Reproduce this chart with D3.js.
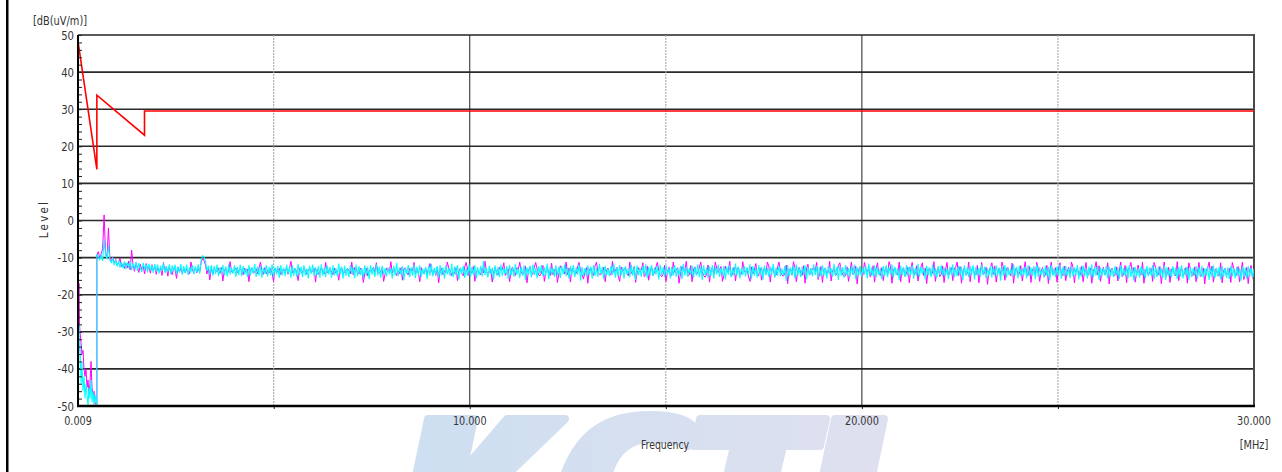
<!DOCTYPE html>
<html><head><meta charset="utf-8">
<script src="https://cdn.jsdelivr.net/npm/d3@7"></script>
<style>html,body{margin:0;padding:0;background:#fff;overflow:hidden}</style>
</head><body><svg id="c" width="1282" height="472"></svg>
<script>
// ---- data ----
const yTickValues = [50, 40, 30, 20, 10, 0, -10, -20, -30, -40, -50];
const xLabelFreqs = [0.009, 10, 20, 30];
const xLabelTexts = ["0.009", "10.000", "20.000", "30.000"];
const xGridSolid = [10, 20];
const xGridDotted = [5, 15, 25];

const limitFreq = [0.009, 0.49, 0.49, 1.705, 1.705, 30];
const limitLevel = [48.3, 13.8, 33.8, 23.0, 29.5, 29.5];

// band 1 (9 kHz - 490 kHz)
const band1Freq = [0.009, 0.022, 0.035, 0.047, 0.06, 0.086, 0.111, 0.137, 0.162, 0.188, 0.213, 0.239, 0.264, 0.29, 0.315, 0.341, 0.366, 0.392, 0.417, 0.443, 0.49];
const band1Magenta = [-15.6, -22, -17, -28, -30, -33, -36, -35, -40, -42, -40, -45, -43, -47, -44, -38, -45, -47, -46, -49, -50];
const band1Cyan = [-21, -49, -28, -35, -33, -44, -38, -46, -42, -48, -44, -47, -50, -45, -48, -43, -49, -46, -50, -47, -50];

// band 2 sweep (0.49 MHz - 30 MHz)
const sweepStart = 0.49, sweepStop = 30;
const band2Cyan = [
-9.0,-9.8,-10.6,-9.4,-10.9,-5.2,-9.1,-10.4,-6.8,-10.7,-11.3,-10.2,-12.0,-10.6,-12.4,-10.9,-12.7,-11.2,-12.9,-11.0,
-13.1,-11.3,-12.6,-11.0,-13.4,-11.6,-12.9,-11.2,-13.6,-11.5,-12.8,-13.9,-11.4,-13.2,-11.8,-14.0,-11.6,-13.5,-12.0,-14.1,
-11.7,-13.8,-11.9,-14.3,-12.2,-13.6,-11.5,-14.2,-12.4,-13.9,-11.8,-14.5,-12.1,-13.7,-11.9,-14.4,-12.5,-14.0,-11.7,-14.6,
-12.3,-14.1,-11.9,-14.7,-12.6,-13.8,-12.0,-14.5,-12.4,-13.9,-11.8,-14.3,-10.6,-9.5,-9.8,-11.0,-13.6,-12.2,-14.6,-12.0,
-14.8,-12.3,-14.4,-11.9,-15.0,-12.6,-14.2,-12.0,-14.9,-12.4,-15.1,-11.8,-14.6,-12.7,-14.3,-12.1,-15.2,-12.5,-14.7,-11.9,
-15.0,-12.3,-14.5,-12.8,-15.3,-12.0,-14.8,-12.6,-14.1,-11.7,-15.2,-12.4,-14.9,-12.2,-15.4,-12.8,-14.4,-12.0,-15.1,-12.5,
-14.7,-11.8,-15.3,-12.6,-14.5,-12.2,-15.5,-12.0,-14.8,-12.7,-15.0,-11.9,-14.3,-12.5,-15.4,-12.1,-14.9,-12.8,-15.2,-11.7,
-14.6,-12.4,-15.3,-12.0,-14.8,-12.9,-15.6,-12.2,-14.4,-11.9,-15.1,-12.6,-14.7,-12.3,-15.5,-11.8,-14.9,-12.7,-15.2,-12.1,
-14.5,-12.5,-15.4,-12.0,-14.8,-12.8,-15.0,-11.6,-14.6,-12.4,-15.7,-12.2,-14.9,-12.9,-15.3,-12.0,-14.4,-12.6,-15.6,-11.9,
-15.0,-12.3,-14.7,-12.8,-15.4,-12.1,-14.9,-12.5,-15.8,-12.0,-14.6,-12.7,-15.2,-11.8,-14.8,-12.4,-15.5,-12.2,-14.5,-12.9,
-15.1,-12.6,-14.3,-13.0,-15.6,-12.2,-14.8,-11.5,-15.0,-12.7,-14.6,-12.3,-16.1,-12.9,-14.4,-12.0,-15.3,-12.6,-14.9,-11.9,
-15.5,-12.4,-14.7,-12.1,-15.2,-13.0,-14.5,-12.5,-15.8,-12.2,-14.9,-11.7,-15.1,-12.8,-14.6,-12.3,-15.4,-12.0,-14.8,-12.6,
-15.7,-12.1,-14.5,-12.9,-15.0,-11.6,-15.3,-12.4,-14.7,-12.0,-15.9,-12.7,-14.3,-12.2,-15.5,-12.8,-14.9,-11.8,-15.2,-12.5,
-14.6,-12.0,-15.6,-12.6,-14.8,-12.3,-15.1,-10.9,-14.7,-12.9,-15.4,-12.2,-14.5,-12.7,-15.9,-12.1,-14.9,-12.5,-15.3,-11.9,
-15.0,-12.8,-14.4,-12.3,-15.7,-12.0,-14.8,-12.6,-15.2,-11.7,-14.6,-13.0,-15.5,-12.4,-14.9,-12.1,-16.0,-12.7,-14.5,-12.2,
-15.3,-11.9,-14.7,-12.8,-15.6,-12.3,-14.4,-12.0,-15.1,-12.6,-14.9,-11.6,-15.8,-12.4,-14.6,-12.9,-15.2,-12.1,-14.8,-12.5,
-15.5,-12.2,-14.5,-11.8,-15.0,-12.7,-15.7,-12.3,-14.8,-12.0,-15.3,-12.6,-14.6,-11.9,-16.2,-12.5,-14.9,-12.8,-15.1,-12.1,
-14.7,-12.4,-15.6,-12.0,-14.9,-12.8,-15.2,-11.7,-14.5,-12.5,-15.8,-12.2,-14.8,-12.9,-15.0,-12.3,-14.6,-11.6,-15.4,-12.7,
-15.1,-12.0,-14.8,-12.6,-15.7,-12.3,-14.5,-12.9,-15.3,-11.9,-14.9,-12.4,-16.0,-12.1,-14.7,-12.8,-15.2,-12.2,-14.6,-11.8,
-15.5,-12.5,-14.9,-12.0,-15.0,-12.7,-14.6,-12.3,-15.9,-11.9,-14.8,-12.6,-15.3,-12.1,-14.5,-12.9,-15.6,-12.4,-14.9,-12.0,
-15.2,-12.8,-14.7,-12.2,-15.8,-11.7,-14.9,-12.5,-15.1,-12.9,-14.6,-12.1,-15.5,-12.6,-14.8,-11.8,-15.3,-12.4,-16.1,-12.0,
-14.7,-12.7,-15.4,-12.3,-14.9,-12.0,-15.7,-12.6,-14.5,-11.9,-15.2,-12.8,-14.8,-12.2,-15.9,-12.5,-14.6,-12.1,-15.3,-12.7,
-15.0,-11.6,-14.8,-12.4,-15.6,-12.9,-14.7,-12.2,-15.1,-12.6,-14.5,-11.8,-15.8,-12.3,-14.9,-12.7,-15.4,-12.0,-14.6,-12.5,
-15.9,-12.1,-14.8,-12.8,-15.2,-12.4,-14.6,-11.7,-15.5,-12.6,-14.9,-12.2,-15.0,-12.9,-14.7,-12.3,-16.3,-12.0,-15.1,-12.6,
-14.8,-12.2,-15.6,-11.9,-14.9,-12.7,-15.3,-12.4,-14.6,-12.0,-15.8,-12.5,-14.8,-12.8,-15.1,-11.8,-14.7,-12.3,-15.5,-12.6,
-15.0,-12.1,-14.9,-12.7,-15.7,-12.3,-14.5,-12.9,-15.2,-11.7,-14.8,-12.5,-16.0,-12.2,-14.9,-12.6,-15.4,-12.0,-14.7,-12.8,
-15.3,-12.4,-14.6,-11.9,-15.9,-12.6,-14.8,-12.2,-15.1,-12.8,-14.5,-12.3,-15.6,-11.6,-14.9,-12.7,-15.0,-12.1,-15.4,-12.5,
-14.7,-12.9,-15.8,-12.3,-14.9,-12.0,-15.3,-12.6,-14.6,-11.8,-15.5,-12.4,-14.8,-12.8,-16.1,-12.2,-14.9,-12.6,-15.2,-12.0,
-15.0,-12.5,-14.7,-12.1,-15.7,-12.8,-14.9,-11.7,-15.2,-12.4,-14.6,-12.7,-15.9,-12.2,-14.8,-12.6,-15.3,-11.9,-14.9,-12.8,
-15.5,-12.3,-14.7,-12.0,-15.1,-12.6,-14.9,-12.9,-15.8,-12.4,-14.6,-11.8,-15.4,-12.7,-15.0,-12.2,-14.8,-12.5,-16.0,-12.1,
-14.9,-12.7,-15.3,-12.3,-14.7,-12.0,-15.9,-12.5,-14.8,-12.8,-15.2,-11.9,-14.6,-12.4,-15.6,-12.9,-14.9,-12.2,-15.4,-12.6,
-15.0,-12.1,-14.8,-12.7,-16.2,-12.3,-14.9,-12.0,-15.5,-12.6,-14.7,-12.9,-15.1,-11.8,-14.9,-12.5,-15.7,-12.2,-15.0,-12.8,
-14.8,-12.4,-15.6,-12.0,-15.0,-12.7,-14.9,-12.3,-15.8,-11.9,-15.2,-12.6,-14.7,-12.9,-15.4,-12.2,-15.0,-12.5,-16.1,-12.0,
-14.9,-12.8,-15.3,-12.4,-14.8,-11.9,-15.7,-12.6,-15.0,-12.2,-14.9,-12.9,-15.5,-12.3,-15.1,-12.7,-14.8,-12.0,-15.9,-12.5,
-15.2,-12.1,-14.9,-12.8,-15.6,-12.4,-15.0,-11.8,-15.4,-12.7,-14.9,-12.3,-16.0,-12.6,-15.1,-12.9,-14.8,-12.2,-15.7,-12.5,
-15.0,-12.9,-15.3,-12.3,-14.9,-12.6,-15.8,-12.0,-15.1,-12.8,-14.9,-12.4,-15.6,-12.1,-15.2,-12.7,-16.2,-12.5,-15.0,-12.9,
-15.4,-12.3,-14.9,-12.8,-15.7,-12.2,-15.1,-12.6,-14.9,-12.0,-15.9,-12.7,-15.2,-12.4,-15.0,-12.9,-15.5,-12.1,-16.0,-12.6,
-15.1,-12.9,-15.4,-12.3,-14.9,-12.7,-15.8,-12.5,-15.2,-12.0,-15.6,-12.8,-15.0,-12.4,-16.1,-12.6,-15.3,-12.9,-14.9,-12.3,
-15.7,-12.6,-15.1,-12.2,-15.5,-12.9,-15.0,-12.4,-16.0,-12.7,-15.3,-12.1,-15.6,-12.8,-15.1,-12.5,-15.9,-12.3,-15.2,-12.9,
-15.4,-12.6,-15.8,-12.2,-15.1,-12.8,-15.6,-12.5,-15.0,-12.9,-16.2,-12.4,-15.3,-12.7,-15.7,-12.3,-15.1,-12.8,-15.5,-13.0
];
const band2Magenta = [
-9.3,-8.4,-10.1,-9.0,-7.5,1.5,-8.8,-9.9,-2.0,-10.4,-11.0,-9.8,-11.6,-10.5,-12.1,-11.3,-10.2,-12.4,-11.7,-12.9,
-11.5,-12.8,-10.9,-13.3,-8.0,-12.0,-13.7,-11.4,-12.6,-14.0,-11.8,-13.2,-12.3,-14.4,-11.6,-13.0,-12.7,-14.2,-11.9,-13.6,
-12.2,-14.5,-12.7,-13.4,-12.9,-14.8,-11.3,-13.8,-12.4,-15.0,-12.6,-13.5,-14.6,-12.8,-13.1,-15.6,-12.5,-13.9,-12.9,-14.3,
-12.8,-14.1,-13.1,-13.6,-14.4,-11.2,-13.3,-14.2,-12.6,-14.1,-13.0,-13.9,-11.4,-10.2,-10.8,-12.0,-14.4,-12.9,-16.0,-12.7,
-14.6,-13.0,-13.5,-13.8,-12.8,-14.3,-12.7,-16.3,-13.4,-12.9,-14.3,-13.7,-11.1,-13.8,-14.0,-13.2,-12.8,-14.1,-13.5,-12.9,
-13.5,-14.6,-12.9,-14.0,-13.1,-16.5,-13.2,-12.8,-14.2,-13.9,-13.0,-14.4,-12.7,-11.2,-13.6,-14.5,-12.7,-14.4,-13.3,-14.1,
-13.0,-14.2,-16.4,-12.8,-13.5,-14.0,-12.9,-14.6,-13.4,-13.1,-13.7,-12.8,-14.5,-13.0,-11.0,-14.1,-13.6,-12.9,-14.1,-16.2,
-12.9,-13.8,-14.3,-12.7,-13.6,-14.5,-13.3,-12.9,-14.0,-13.6,-12.9,-16.6,-13.2,-14.5,-13.8,-12.6,-13.9,-14.4,-11.3,-14.1,
-13.6,-12.9,-13.7,-14.6,-12.8,-14.2,-13.4,-16.1,-13.1,-12.8,-14.2,-14.0,-13.3,-12.9,-13.5,-14.4,-11.2,-14.6,-12.7,-13.3,
-13.9,-14.4,-12.8,-13.4,-16.7,-14.3,-12.9,-14.9,-13.5,-13.6,-13.3,-12.6,-14.0,-11.4,-13.9,-14.2,-13.7,-12.8,-16.4,-14.5,
-12.8,-13.7,-14.1,-11.1,-14.2,-12.9,-13.6,-14.8,-13.5,-14.3,-12.7,-16.1,-13.0,-12.8,-14.0,-14.7,-12.9,-13.6,-13.5,-11.3,
-14.4,-13.1,-14.2,-16.5,-12.7,-13.9,-14.4,-12.8,-14.5,-13.2,-11.6,-13.2,-14.6,-13.1,-14.8,-12.6,-16.8,-13.7,-12.9,-14.6,
-13.5,-14.1,-11.2,-12.9,-13.4,-14.8,-13.9,-14.4,-12.7,-16.2,-13.6,-12.8,-14.3,-14.9,-12.5,-11.3,-13.1,-14.9,-13.7,-14.2,
-12.4,-16.4,-13.8,-13.3,-14.2,-14.6,-12.8,-14.1,-11.0,-13.7,-14.5,-14.0,-13.2,-16.6,-13.9,-12.6,-14.0,-14.7,-12.6,-13.3,
-13.2,-11.4,-14.8,-14.3,-13.0,-16.5,-13.6,-12.5,-14.1,-14.8,-12.7,-13.2,-11.2,-13.9,-14.6,-14.1,-12.3,-16.8,-13.7,-12.4,
-14.3,-14.5,-12.6,-11.3,-13.1,-14.7,-14.9,-14.2,-12.1,-16.4,-13.8,-12.6,-14.4,-14.9,-11.5,-14.7,-13.3,-12.8,-16.7,-14.4,
-12.2,-13.1,-13.5,-14.4,-11.2,-14.6,-12.8,-16.6,-13.0,-12.9,-14.5,-14.3,-12.4,-11.3,-13.7,-14.6,-15.8,-14.0,-12.7,-16.9,
-13.4,-12.7,-14.0,-14.8,-12.3,-11.2,-13.9,-14.5,-14.6,-14.1,-12.6,-16.5,-13.2,-12.8,-14.3,-14.7,-11.0,-14.0,-13.6,-12.6,
-14.9,-16.4,-12.5,-13.8,-13.1,-12.7,-14.4,-14.9,-11.2,-14.3,-13.8,-12.4,-16.7,-14.2,-12.7,-13.6,-13.3,-11.4,-15.1,-14.6,
-12.3,-16.1,-13.7,-12.5,-14.8,-14.0,-12.6,-11.3,-13.4,-14.8,-15.2,-14.5,-12.1,-16.4,-13.9,-12.6,-14.5,-14.8,-11.2,-14.0,
-13.3,-12.7,-16.9,-14.3,-12.4,-13.5,-13.6,-11.0,-15.0,-14.7,-12.2,-16.5,-13.1,-12.5,-14.6,-14.1,-12.7,-11.2,-13.8,-14.8,
-15.3,-14.6,-12.0,-16.6,-13.5,-12.6,-14.7,-11.2,-12.9,-14.0,-13.2,-12.4,-16.4,-14.8,-12.3,-13.8,-13.7,-11.0,-15.1,-14.4,
-12.6,-16.3,-13.0,-12.7,-14.8,-14.5,-11.1,-13.7,-13.9,-12.9,-15.2,-16.4,-12.5,-14.4,-13.4,-11.6,-14.6,-14.9,-12.8,-16.1,
-13.6,-12.8,-14.5,-11.2,-12.3,-16.6,-13.1,-12.5,-14.9,-14.7,-12.7,-11.2,-13.8,-14.7,-15.0,-14.4,-12.0,-17.0,-13.3,-12.9,
-14.7,-11.1,-12.6,-16.5,-13.5,-12.6,-14.3,-14.8,-12.2,-16.9,-13.0,-11.8,-14.6,-14.3,-12.9,-13.1,-13.7,-11.3,-15.9,-14.6,
-12.4,-16.7,-13.2,-12.9,-14.4,-14.0,-11.0,-16.3,-13.6,-12.7,-14.8,-14.5,-12.1,-11.4,-13.4,-14.6,-15.1,-14.9,-12.5,-16.4,
-13.9,-11.2,-14.6,-14.2,-12.3,-17.1,-13.3,-12.5,-14.9,-14.7,-11.3,-13.0,-13.8,-12.9,-15.2,-14.4,-12.2,-16.6,-13.1,-11.4,
-14.5,-14.8,-12.7,-16.2,-13.6,-12.6,-14.7,-11.1,-12.4,-16.9,-13.2,-12.8,-14.3,-14.6,-11.2,-16.5,-13.5,-12.7,-15.0,-14.3,
-12.5,-16.8,-13.0,-11.3,-14.8,-14.4,-12.2,-16.3,-13.7,-12.6,-11.4,-14.9,-12.8,-17.0,-13.3,-12.8,-14.6,-14.2,-11.1,-16.4,
-13.8,-12.7,-15.1,-14.6,-12.3,-16.7,-13.4,-11.3,-14.9,-14.0,-12.7,-16.2,-13.1,-12.5,-11.2,-14.8,-12.4,-16.9,-13.6,-12.8,
-14.7,-14.3,-11.2,-16.5,-13.2,-12.6,-14.3,-14.7,-12.1,-16.8,-13.9,-11.3,-14.6,-14.1,-12.6,-17.2,-13.5,-12.7,-11.4,-14.5,
-12.3,-16.6,-13.7,-12.9,-14.8,-11.2,-12.8,-16.1,-13.0,-12.6,-14.4,-14.9,-11.5,-16.9,-13.4,-12.8,-14.7,-14.4,-12.2,-16.3,
-13.6,-11.1,-14.5,-14.8,-12.4,-16.7,-13.3,-12.7,-14.9,-11.3,-12.9,-16.4,-13.8,-12.6,-15.2,-14.6,-12.1,-17.0,-13.5,-11.2,
-14.6,-14.2,-12.7,-16.6,-13.1,-11.4,-14.3,-14.9,-12.3,-16.2,-13.9,-12.6,-14.8,-11.2,-12.6,-16.8,-13.2,-12.9,-14.5,-14.7,
-12.4,-16.5,-13.7,-11.3,-14.9,-14.3,-12.8,-16.9,-13.4,-12.9,-11.1,-14.6,-12.2,-16.4,-13.8,-12.6,-14.7,-14.0,-11.4,-17.1,
-13.3,-12.8,-14.6,-14.8,-12.5,-16.3,-13.6,-11.2,-15.2,-14.5,-12.1,-16.8,-13.0,-12.7,-11.3,-14.2,-12.7,-16.6,-13.9,-12.0,
-14.4,-14.7,-11.2,-16.9,-13.5,-12.8,-14.7,-14.1,-12.9,-16.4,-11.3,-12.6,-14.9,-14.6,-12.4,-17.0,-13.7,-11.2,-15.3,-14.4,
-12.6,-16.7,-13.1,-12.8,-14.5,-14.9,-11.1,-16.2,-13.8,-12.7,-14.8,-14.3,-12.7,-16.9,-11.4,-12.9,-14.6,-14.8,-12.5,-16.5,
-13.9,-11.3,-15.2,-14.6,-12.8,-17.1,-13.3,-12.8,-11.2,-14.4,-12.3,-16.6,-13.6,-12.9,-14.7,-14.9,-11.4,-16.8,-13.5,-12.9,
-14.8,-14.3,-12.9,-16.7,-11.3,-12.9,-14.4,-14.8,-12.4,-16.5,-13.9,-11.2,-15.9,-14.5,-12.7,-17.0,-13.6,-12.1,-15.6,-14.6
];

// ---- drawing ----
const W = 1282, H = 472;
const svg = d3.select("#c");
const FONT = "'Liberation Sans Narrow','DejaVu Sans Condensed','Liberation Sans',Arial,sans-serif";
const x = d3.scaleLinear().domain([0.009, 30]).range([78, 1254]);
const y = d3.scaleLinear().domain([-50, 50]).range([406, 35]);
const [x0, x1] = x.range(), [y0, y1] = y.range();

svg.append("rect").attr("width", W).attr("height", H).attr("fill", "#fff");

// watermark
const defs = svg.append("defs");
const grad = defs.append("linearGradient").attr("id", "wm").attr("gradientUnits", "userSpaceOnUse")
  .attr("x1", 410).attr("x2", 890).attr("y1", 0).attr("y2", 0);
grad.append("stop").attr("offset", 0).attr("stop-color", "#cddff1");
grad.append("stop").attr("offset", 1).attr("stop-color", "#dfe0ef");
const wm = svg.append("g").attr("fill", "url(#wm)").attr("stroke", "url(#wm)")
  .attr("stroke-width", 8).attr("stroke-linejoin", "round");
[
  "M428,419 L474,419 L462,476 L416,476 Z",
  "M507,419 L565,419 L506,476 L458,476 Z",
  "M564,476 C578,434 606,415 650,415 C676,415 692,421 695,430 L688,446 C678,440 664,439 651,439 C628,439 614,454 608,476 Z",
  "M700,419 L826,419 L820,446 L783,446 L776,476 L727,476 L734,446 L694,446 Z",
  "M835,419 L884,419 L872,476 L823,476 Z"
].forEach(d => wm.append("path").attr("d", d));

// left frame line
svg.append("rect").attr("x", 6).attr("y", 0).attr("width", 2.5).attr("height", H).attr("fill", "#000");

// gridlines
svg.append("g").selectAll("line").data(yTickValues.filter(v => v > -50 && v < 50)).join("line")
  .attr("x1", x0).attr("x2", x1).attr("y1", d => y(d)).attr("y2", d => y(d))
  .attr("stroke", "#2a2a2a").attr("stroke-width", 1.6);
svg.append("line").attr("x1", x0).attr("x2", x1 + 1).attr("y1", y(50)).attr("y2", y(50))
  .attr("stroke", "#5a5a5a").attr("stroke-width", 2);
svg.append("g").selectAll("line").data(xGridSolid).join("line")
  .attr("x1", d => x(d)).attr("x2", d => x(d)).attr("y1", y1).attr("y2", y0)
  .attr("stroke", "#222").attr("stroke-width", 1);
svg.append("g").selectAll("line").data(xGridDotted).join("line")
  .attr("x1", d => x(d)).attr("x2", d => x(d)).attr("y1", y1).attr("y2", y0)
  .attr("stroke", "#a0a0a0").attr("stroke-width", 1).attr("stroke-dasharray", "2,1");
svg.append("line").attr("x1", x1).attr("x2", x1).attr("y1", y1 - 1).attr("y2", y0)
  .attr("stroke", "#4a4a4a").attr("stroke-width", 2);

defs.append("clipPath").attr("id", "plot").append("rect")
  .attr("x", x0).attr("y", y1).attr("width", x1 - x0).attr("height", y0 - y1);

// traces
const n2 = band2Cyan.length;
const band2Freq = band2Cyan.map((_, i) => sweepStart + i * (sweepStop - sweepStart) / (n2 - 1));
const toPts = (fs, vs) => fs.map((f, i) => ({ f, v: vs[i] }));
const magPts = toPts(band1Freq, band1Magenta).concat(toPts(band2Freq, band2Magenta));
const cyaPts = toPts(band1Freq, band1Cyan).concat(toPts(band2Freq, band2Cyan));
const line = d3.line().x(d => x(d.f)).y(d => y(d.v));
const traces = svg.append("g").attr("clip-path", "url(#plot)");
traces.append("path").datum(magPts).attr("d", line).attr("fill", "none")
  .attr("stroke", "#ff00ff").attr("stroke-width", 1);
traces.append("path").datum(cyaPts).attr("d", line).attr("fill", "none")
  .attr("stroke", "#00ffff").attr("stroke-width", 1.1);
traces.append("path").datum(toPts(limitFreq, limitLevel)).attr("d", line).attr("fill", "none")
  .attr("stroke", "#ff0000").attr("stroke-width", 1.6);

// axes
const minor = d3.range(-50, 51, 2);
const yAx = svg.append("g").attr("transform", `translate(${x0},0)`)
  .call(d3.axisRight(y).tickValues(minor).tickSize(4).tickFormat(""));
yAx.select(".domain").remove();
yAx.selectAll("line").attr("stroke", "#222");
const xAx = svg.append("g").attr("transform", `translate(0,${y0})`)
  .call(d3.axisBottom(x).tickValues([5, 10, 15, 20, 25]).tickSize(3).tickFormat(""));
xAx.select(".domain").remove();
xAx.selectAll("line").attr("stroke", "#222");
svg.append("line").attr("x1", x0).attr("x2", x0).attr("y1", y1).attr("y2", y0 + 1)
  .attr("stroke", "#000").attr("stroke-width", 2);
svg.append("line").attr("x1", x0 - 1).attr("x2", x1 + 1).attr("y1", y0).attr("y2", y0)
  .attr("stroke", "#000").attr("stroke-width", 2.4);

// labels (condensed look via horizontal scale)
const txt = svg.append("g").attr("font-family", FONT).attr("fill", "#333");
txt.selectAll(".yl").data(yTickValues).join("text")
  .attr("transform", d => `translate(74,${y(d)}) scale(0.9,1)`).attr("dy", "0.36em")
  .attr("text-anchor", "end").attr("font-size", 12.5).text(d => d);
txt.selectAll(".xl").data(xLabelFreqs).join("text")
  .attr("transform", d => `translate(${x(d)},425) scale(0.86,1)`).attr("text-anchor", "middle")
  .attr("font-size", 12.5).text((d, i) => xLabelTexts[i]);
txt.append("text").attr("transform", "translate(60,25) scale(0.84,1)").attr("text-anchor", "middle")
  .attr("font-size", 13).text("[dB(uV/m)]");
txt.append("text").attr("transform", "translate(48,219) rotate(-90)").attr("text-anchor", "middle")
  .attr("font-size", 11.5).attr("letter-spacing", 2.2).text("Level");
txt.append("text").attr("transform", "translate(665,449) scale(0.8,1)").attr("text-anchor", "middle")
  .attr("font-size", 13).text("Frequency");
txt.append("text").attr("transform", "translate(1254,449) scale(0.84,1)").attr("text-anchor", "middle")
  .attr("font-size", 13).text("[MHz]");
</script></body></html>
